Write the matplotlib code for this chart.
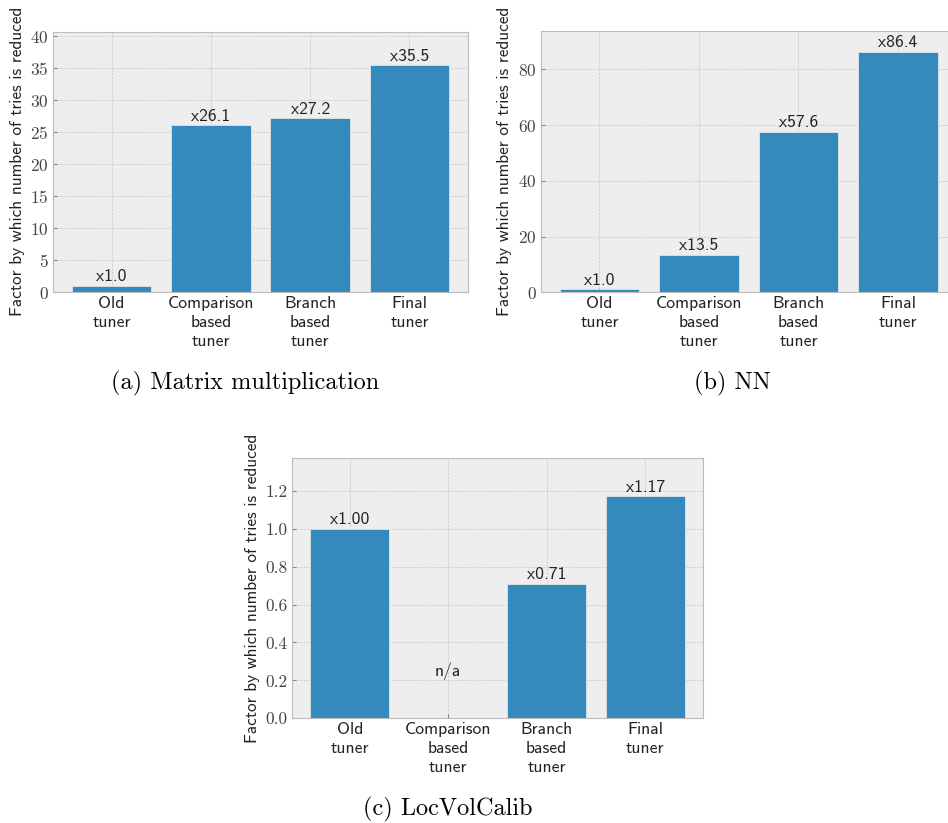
import matplotlib.pyplot as plt
import numpy as np

plt.style.use('bmh')
plt.rcParams['axes.formatter.use_mathtext'] = True

# fonts: Computer Modern look (shipped with matplotlib)
SANS = 'cmss10'
SERIF = 'cmr10'
BAR_COLOR = '#348ABD'
TEXT_COLOR = '#222222'

categories = ['Old\ntuner', 'Comparison\nbased\ntuner', 'Branch\nbased\ntuner', 'Final\ntuner']

matmul_vals = [1.0, 26.1, 27.2, 35.5]
matmul_labels = ['x1.0', 'x26.1', 'x27.2', 'x35.5']

nn_vals = [1.0, 13.5, 57.6, 86.4]
nn_labels = ['x1.0', 'x13.5', 'x57.6', 'x86.4']

locvol_vals = [1.00, 0.0, 0.71, 1.17]
locvol_labels = ['x1.00', '', 'x0.71', 'x1.17']

ylabel = 'Factor by which number of tries is reduced'

fig = plt.figure(figsize=(9.48, 8.23), dpi=100)
fig.patch.set_facecolor('white')


def draw_panel(rect, vals, labels, ylim, yticks):
    ax = fig.add_axes(rect)
    x = np.arange(len(categories))
    bars = ax.bar(x, vals, width=0.8, color=BAR_COLOR, edgecolor='#eeeeee', linewidth=0.5)
    ax.bar_label(bars, labels=labels, padding=1, fontfamily=SANS, fontsize=12.7, color=TEXT_COLOR)
    ax.set_xticks(x)
    ax.set_xticklabels(categories, fontfamily=SANS, fontsize=12.7, color=TEXT_COLOR, linespacing=1.32)
    ax.set_yticks(yticks)
    for lab in ax.get_yticklabels():
        lab.set_fontfamily(SERIF)
        lab.set_fontsize(12.5)
        lab.set_color('#444444')
    ax.set_ylim(*ylim)
    ax.set_xlim(-0.59, 3.59)
    ax.set_ylabel(ylabel, fontfamily=SANS, fontsize=12.4, color=TEXT_COLOR, labelpad=4)
    ax.tick_params(direction='in', length=3, color='#888888', pad=3)
    ax.grid(True, linestyle='--', linewidth=0.5, color='#c8c8c8')
    ax.set_axisbelow(True)
    for s in ax.spines.values():
        s.set_color('#bcbcbc')
    return ax


ax_a = draw_panel([0.0559, 0.6452, 0.4378, 0.3163], matmul_vals, matmul_labels,
                  (0, 40.7), np.arange(0, 41, 5))
ax_b = draw_panel([0.5704, 0.6449, 0.4388, 0.3175], nn_vals, nn_labels,
                  (0, 93.8), np.arange(0, 81, 20))
ax_c = draw_panel([0.3077, 0.1272, 0.4342, 0.3166], locvol_vals, locvol_labels,
                  (0, 1.374), np.round(np.arange(0, 1.21, 0.2), 1))
ax_c.text(1, 0.2, 'n/a', ha='center', va='bottom', fontfamily=SANS, fontsize=12.7, color=TEXT_COLOR)
ax_c.set_yticklabels(['0.0', '0.2', '0.4', '0.6', '0.8', '1.0', '1.2'], fontfamily=SERIF,
                     fontsize=12.5, color='#444444')

fig.text(245 / 948, 1 - 383 / 823, '(a) Matrix multiplication', fontfamily=SERIF,
         fontsize=17.5, ha='center', va='center', color='black')
fig.text(732 / 948, 1 - 383 / 823, '(b) NN', fontfamily=SERIF,
         fontsize=17.5, ha='center', va='center', color='black')
fig.text(448 / 948, 1 - 809 / 823, '(c) LocVolCalib', fontfamily=SERIF,
         fontsize=17.5, ha='center', va='center', color='black')

fig.savefig('out.png', dpi=100)
